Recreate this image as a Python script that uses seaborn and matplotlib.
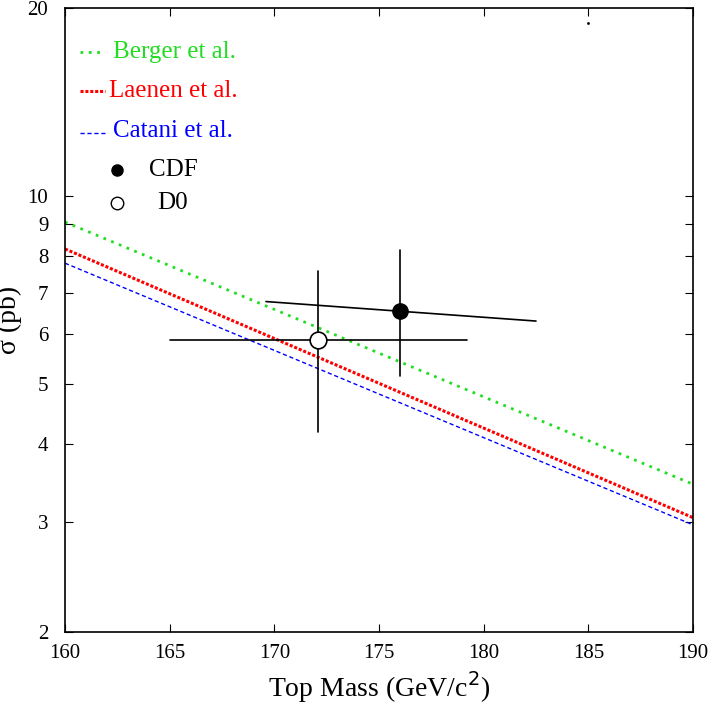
import numpy as np
import seaborn as sns
import matplotlib.pyplot as plt
from matplotlib.ticker import FixedLocator, NullLocator

# theory curves (endpoints at 160 and 190 GeV)
mass = [160, 190]
berger = [9.08, 3.45]
laenen = [8.22, 3.05]
catani = [7.80, 2.97]

# measurements
cdf_mass, cdf_xs = 176.0, 6.54
cdf_yerr = [5.14, 8.19]
cdf_xline = [169.6, 182.5]
cdf_yline = [6.77, 6.30]
d0_mass, d0_xs = 172.1, 5.87
d0_yerr = [4.18, 7.58]
d0_xline = [165.0, 179.2]

yticks = [2, 3, 4, 5, 6, 7, 8, 9, 10, 20]

sns.set_style("ticks")
plt.rcParams['font.family'] = 'Liberation Serif'
plt.rcParams['text.color'] = 'black'
fig = plt.figure(figsize=(7.08, 7.04), dpi=100)
ax = fig.add_axes([65/708, 72/704, 628/708, 624/704])

sns.lineplot(x=mass, y=berger, ax=ax, color='#22dd22', linestyle=(0, (1, 2)), linewidth=2)
sns.lineplot(x=mass, y=laenen, ax=ax, color='red', linestyle=(0, (1, 0.6)), linewidth=2.2)
sns.lineplot(x=mass, y=catani, ax=ax, color='blue', linestyle=(0, (3, 2)), linewidth=1)

ax.plot([cdf_mass, cdf_mass], cdf_yerr, color='black', lw=1.2)
ax.plot(cdf_xline, cdf_yline, color='black', lw=1.2)
ax.plot(cdf_mass, cdf_xs, 'o', color='black', ms=11)
ax.plot([d0_mass, d0_mass], d0_yerr, color='black', lw=1.2)
ax.plot(d0_xline, [d0_xs, d0_xs], color='black', lw=1.2)
ax.plot(d0_mass, d0_xs, 'o', mfc='white', mec='black', ms=12, mew=1.2)

ax.set_yscale('log')
ax.set_xlim(160, 190)
ax.set_ylim(2, 20)
ax.yaxis.set_major_locator(FixedLocator(yticks))
ax.yaxis.set_minor_locator(NullLocator())
ax.set_yticklabels([str(t) for t in yticks])
ax.set_xticks(range(160, 191, 5))
ax.tick_params(direction='in', labelsize=15, top=True, right=True, length=6,
               labelcolor='black', color='black')
ax.tick_params(axis='x', pad=9)
ax.tick_params(axis='y', pad=12)
for s in ax.spines.values():
    s.set_linewidth(1.2)
    s.set_color('black')
ax.set_xlabel('Top Mass (GeV/c$^2$)', fontsize=20, color='black')
ax.set_ylabel('σ (pb)', fontsize=20, color='black', labelpad=4)

# legend-like annotations
ax.plot([160.7, 161.9], [17.0, 17.0], color='#22dd22', linestyle=(0, (1, 2)), lw=2)
ax.text(162.3, 17.0, 'Berger et al.', color='#22dd22', fontsize=18, va='center')
ax.plot([160.7, 161.9], [14.7, 14.7], color='red', linestyle=(0, (1, 0.6)), lw=2.2)
ax.text(162.1, 14.7, 'Laenen et al.', color='red', fontsize=18, va='center')
ax.plot([160.7, 161.9], [12.6, 12.6], color='blue', linestyle=(0, (3, 2)), lw=1)
ax.text(162.3, 12.7, 'Catani et al.', color='blue', fontsize=18, va='center')
ax.plot(162.5, 11.0, 'o', color='black', ms=8)
ax.text(164.0, 11.0, 'CDF', fontsize=18, va='center')
ax.plot(162.5, 9.75, 'o', mfc='white', mec='black', ms=9)
ax.text(164.4, 9.75, 'D0', fontsize=18, va='center')
ax.plot(185.0, 18.9, '.', color='black', ms=2)

fig.savefig('out.png', dpi=100)
